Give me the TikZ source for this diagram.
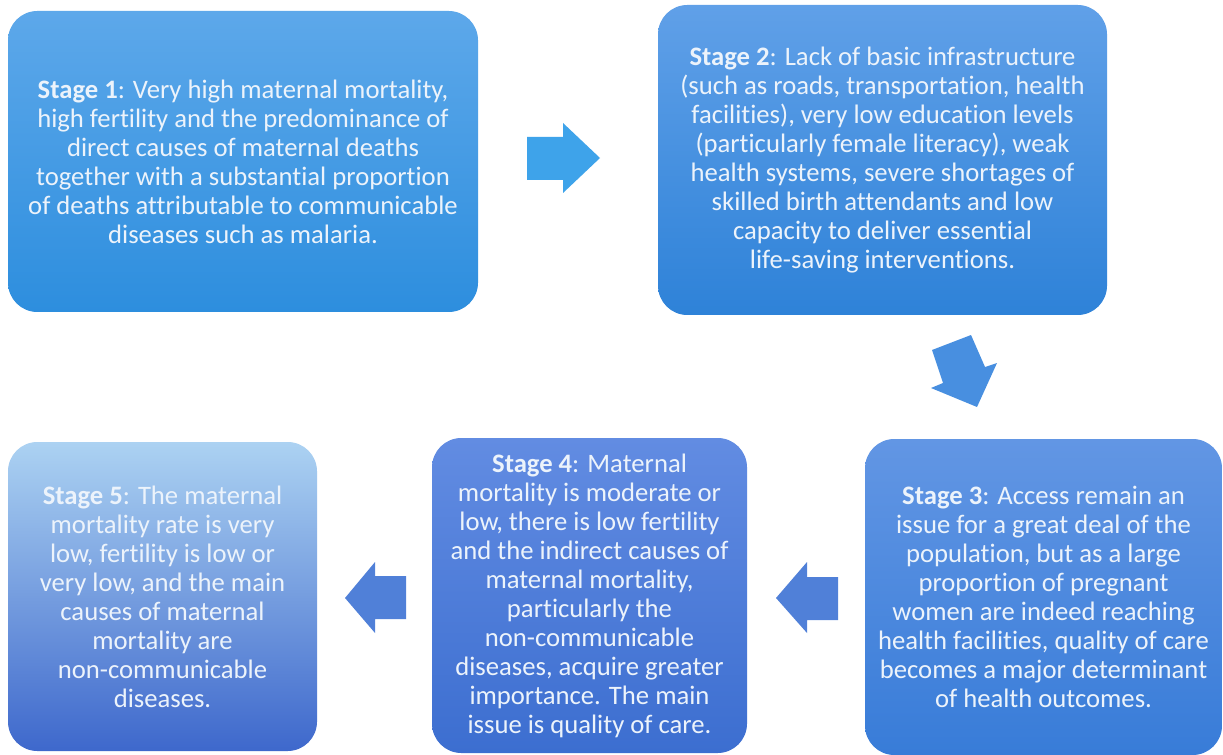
\documentclass[tikz,border=0pt]{standalone}
\usepackage{fontspec}
\setmainfont[Ligatures=NoCommon]{Carlito}
\definecolor{txt}{RGB}{236,243,251}
\definecolor{aOneT}{RGB}{93,168,234}\definecolor{aOneB}{RGB}{45,142,222}
\definecolor{aTwoT}{RGB}{96,160,232}\definecolor{aTwoB}{RGB}{46,130,216}
\definecolor{aThrT}{RGB}{98,150,228}\definecolor{aThrB}{RGB}{56,124,216}
\definecolor{aFouT}{RGB}{98,140,226}\definecolor{aFouB}{RGB}{60,110,208}
\definecolor{aFivT}{RGB}{172,210,242}\definecolor{aFivB}{RGB}{62,104,204}
\definecolor{arR}{RGB}{62,163,234}
\definecolor{arD}{RGB}{72,143,224}
\definecolor{arL}{RGB}{80,128,216}
\begin{document}
\begin{tikzpicture}[x=0.75pt,y=-0.75pt,
  stagebox/.style={rounded corners=22pt, inner sep=0pt, align=center, text=txt,
    font=\fontsize{20}{21.75}\selectfont}]
\useasboundingbox (0,0) rectangle (1223,755);
\fill[white] (0,0) rectangle (1223,755);
\node[stagebox, top color=aOneT, bottom color=aOneB, minimum width=352.5pt, minimum height=225.75pt] (s1) at (243,161.5)
 {\textbf{Stage 1}: Very high maternal mortality,\\ high fertility and the predominance of\\ direct causes of maternal deaths\\ together with a substantial proportion\\ of deaths attributable to communicable\\ diseases such as malaria.};
\node[stagebox, top color=aTwoT, bottom color=aTwoB, minimum width=336.75pt, minimum height=232.5pt] (s2) at (882.5,160)
 {\textbf{Stage 2}: Lack of basic infrastructure\\ (such as roads, transportation, health\\ facilities), very low education levels\\ (particularly female literacy), weak\\ health systems, severe shortages of\\ skilled birth attendants and low\\ capacity to deliver essential\\ life-saving interventions.};
\node[stagebox, top color=aThrT, bottom color=aThrB, minimum width=267.75pt, minimum height=237pt] (s3) at (1043.5,597)
 {\textbf{Stage 3}: Access remain an\\ issue for a great deal of the\\ population, but as a large\\ proportion of pregnant\\ women are indeed reaching\\ health facilities, quality of care\\ becomes a major determinant\\ of health outcomes.};
\node[stagebox, top color=aFouT, bottom color=aFouB, minimum width=236.25pt, minimum height=236.25pt] (s4) at (589.5,595.5)
 {\textbf{Stage 4}: Maternal\\ mortality is moderate or\\ low, there is low fertility\\ and the indirect causes of\\ maternal mortality,\\ particularly the\\ non-communicable\\ diseases, acquire greater\\ importance. The main\\ issue is quality of care.};
\node[stagebox, top color=aFivT, bottom color=aFivB, minimum width=231.75pt, minimum height=231.75pt] (s5) at (162.5,596.5)
 {\textbf{Stage 5}: The maternal\\ mortality rate is very\\ low, fertility is low or\\ very low, and the main\\ causes of maternal\\ mortality are\\ non-communicable\\ diseases.};
% block arrows
\fill[arR] (527,137) -- (563,137) -- (563,123) -- (600,158) -- (563,193) -- (563,180) -- (527,180) -- cycle;
\fill[arD] (932,350) -- (971,335) -- (985,367) -- (997,363) -- (977,407) -- (931,388) -- (943,383) -- cycle;
\fill[arL] (406,576) -- (375,576) -- (375,562) -- (345,598) -- (375,633) -- (375,619) -- (406,619) -- cycle;
\fill[arL] (838,577) -- (807,577) -- (807,562) -- (776,598) -- (807,633) -- (807,620) -- (838,620) -- cycle;
\end{tikzpicture}
\end{document}
